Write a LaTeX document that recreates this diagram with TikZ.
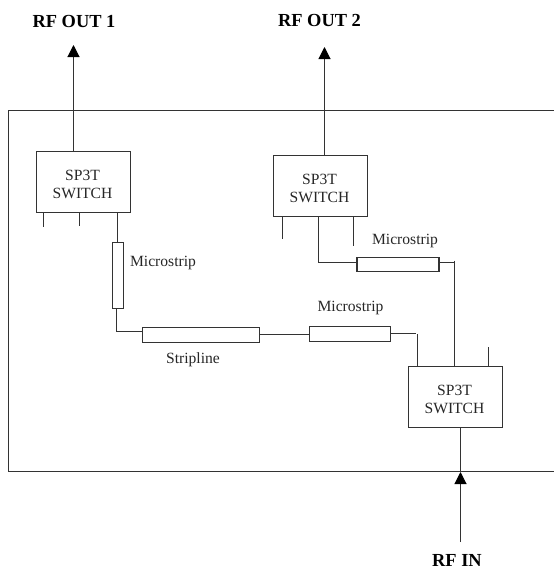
\documentclass[tikz,border=0pt]{standalone}
\usepackage{fontspec}
\setmainfont{Liberation Serif}
\usetikzlibrary{arrows.meta}
\tikzset{
 x=0.75pt,y=-0.75pt,
 wire/.style={draw=black!80,line width=0.8pt},
 boxb/.style={draw=black!80,line width=0.85pt,inner sep=0pt},
 sw/.style={boxb,minimum width=70.5pt,minimum height=46pt},
 lbl/.style={font=\fontsize{11.7pt}{14pt}\selectfont,inner sep=0pt,text=black!85},
 swlbl/.style={inner sep=0pt,align=center,text=black!85,font=\fontsize{11.7pt}{13.5pt}\selectfont},
 ttl/.style={font=\bfseries\fontsize{13.8pt}{15pt}\selectfont,inner sep=0pt},
 arr/.style={wire,-{Triangle[length=9pt,width=9pt,black]}}
}
\begin{document}
\begin{tikzpicture}
\useasboundingbox (0,0) rectangle (554,572);
\draw[wire] (554,110.5) -- (8.5,110.5) -- (8.5,471.5) -- (554,471.5);
% switches
\node[sw] (s1) at (83.25,182.25) {};
\node[sw] (s2) at (320.5,186.25) {};
\node[sw] (s3) at (455.5,397.25) {};
\node[swlbl] (s1t) at (82.5,184.2) {SP3T\\SWITCH};
\node[swlbl] (s2t) at (319.5,188.2) {SP3T\\SWITCH};
\node[swlbl] (s3t) at (454.5,399.2) {SP3T\\SWITCH};
% transmission lines
\node[boxb,minimum width=8pt,minimum height=50pt] (m1) at (117.75,275.5) {};
\node[boxb,minimum width=87.5pt,minimum height=11.5pt] (st) at (200.75,334.75) {};
\node[boxb,minimum width=61pt,minimum height=11.5pt] (m2) at (350,333.75) {};
\node[boxb,minimum width=61.5pt,minimum height=10.5pt] (m3) at (398,264.3) {};
% arrows
\coordinate (o1) at (73.5,45);
\coordinate (o2) at (324.5,47);
\coordinate (in) at (460.5,542);
\coordinate (ih) at (460.5,472);
\draw[arr] (73.5,151.5) -- (o1);
\draw[arr] (324.5,155.5) -- (o2);
\draw[arr] (in) -- (ih);
\draw[wire] (460.5,428) -- (ih);
% stubs and connectors
\draw[wire] (43.5,213) -- (43.5,227);
\draw[wire] (79.5,213) -- (79.5,225.5);
\draw[wire] (117.5,213) -- (117.5,242);
\draw[wire] (116.5,309) -- (116.5,331.5) -- (142.5,331.5);
\draw[wire] (st.east) -- (m2.west |- st.east);
\draw[wire] (m2.east |- 0,333.5) -- (415.5,333.5);
\draw[wire] (417.5,334) -- (417.5,366.5);
\draw[wire] (318.5,217) -- (318.5,262.5) -- (357,262.5);
\draw[wire] (439,262.5) -- (454.5,262.5);
\draw[wire] (454.5,260.5) -- (454.5,366.5);
\draw[wire] (282.5,217) -- (282.5,239);
\draw[wire] (353.5,217) -- (353.5,246);
\draw[wire] (488.5,347) -- (488.5,366.5);
% labels
\node[lbl] (l1) at (163,263) {Microstrip};
\node[lbl] (l2) at (193,360) {Stripline};
\node[lbl] (l3) at (350.5,308) {Microstrip};
\node[lbl] (l4) at (405,241) {Microstrip};
\node[ttl] (t1) at (74,21) {RF OUT 1};
\node[ttl] (t2) at (319.5,20) {RF OUT 2};
\node[ttl] (t3) at (457,560) {RF IN};
\end{tikzpicture}
\end{document}
